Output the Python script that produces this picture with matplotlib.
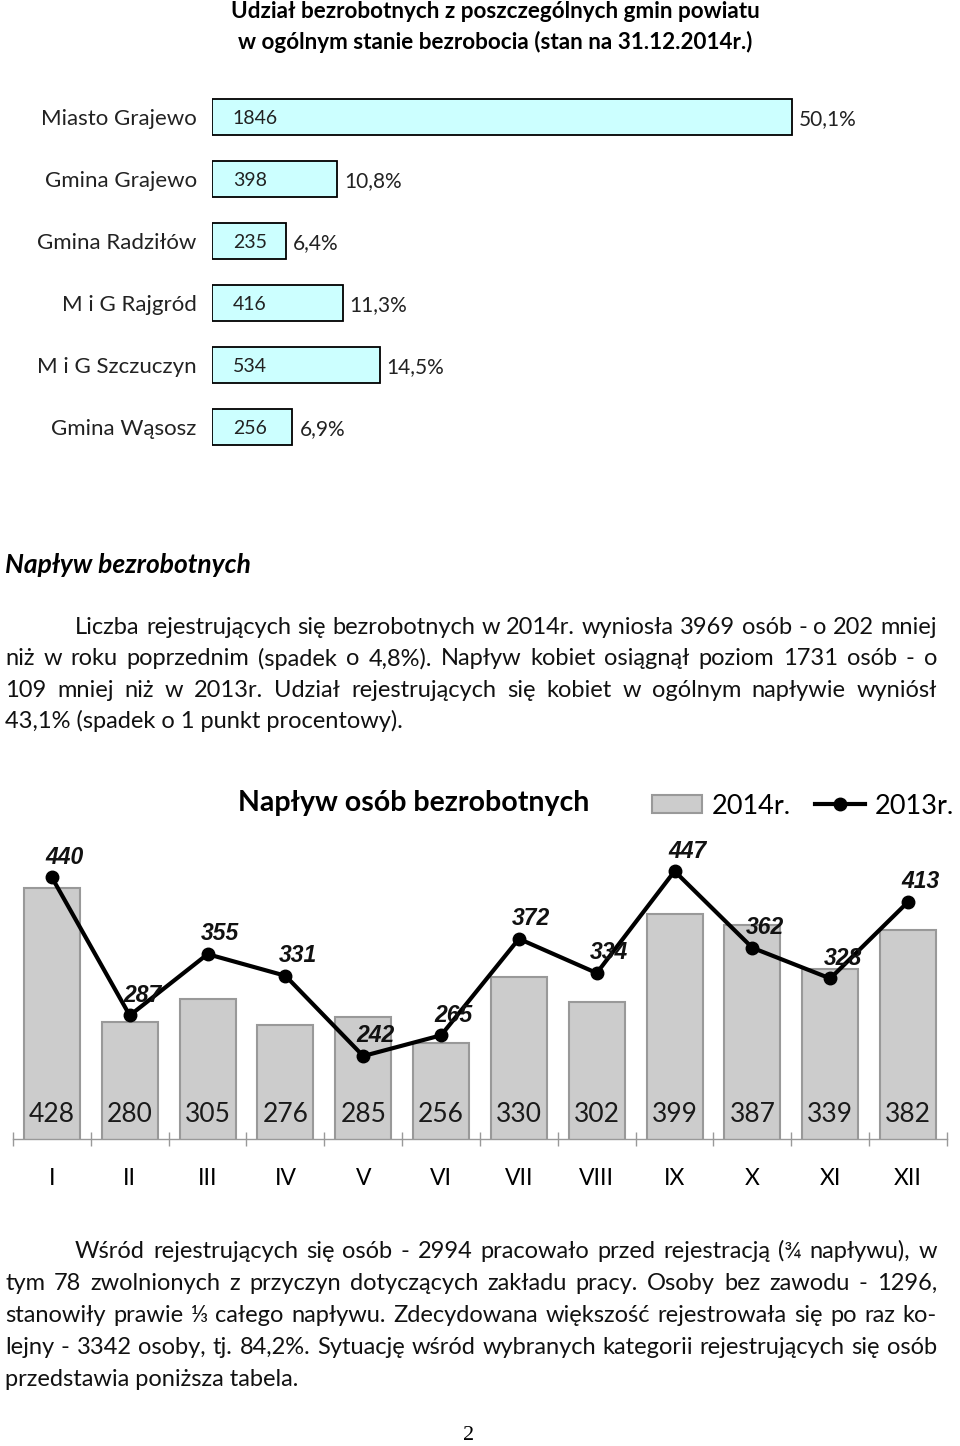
import matplotlib
matplotlib.use("Agg")
import matplotlib.pyplot as plt
from matplotlib.ticker import FixedLocator, NullFormatter

# dane - udzial gmin (stan na 31.12.2014)
gminy = ['Miasto Grajewo', 'Gmina Grajewo', 'Gmina Radziłów', 'M i G Rajgród', 'M i G Szczuczyn', 'Gmina Wąsosz']
bezrobotni = [1846, 398, 235, 416, 534, 256]
udzial = ['50,1%', '10,8%', '6,4%', '11,3%', '14,5%', '6,9%']

# dane - naplyw bezrobotnych wg miesiecy
miesiace = ['I', 'II', 'III', 'IV', 'V', 'VI', 'VII', 'VIII', 'IX', 'X', 'XI', 'XII']
naplyw_2014 = [428, 280, 305, 276, 285, 256, 330, 302, 399, 387, 339, 382]
naplyw_2013 = [440, 287, 355, 331, 242, 265, 372, 334, 447, 362, 328, 413]

tytul = ['Udział bezrobotnych z poszczególnych gmin powiatu',
         'w ogólnym stanie bezrobocia (stan na 31.12.2014r.)']
akapit1 = ['Liczba rejestrujących się bezrobotnych w 2014r. wyniosła 3969 osób - o 202 mniej',
           'niż w roku poprzednim (spadek o 4,8%). Napływ kobiet osiągnął poziom 1731 osób - o',
           '109 mniej niż w 2013r. Udział rejestrujących się kobiet w ogólnym napływie wyniósł',
           '43,1% (spadek o 1 punkt procentowy).']
akapit2 = ['Wśród rejestrujących się osób - 2994 pracowało przed rejestracją (¾ napływu), w',
           'tym 78 zwolnionych z przyczyn dotyczących zakładu pracy. Osoby bez zawodu - 1296,',
           'stanowiły prawie ⅓ całego napływu. Zdecydowana większość rejestrowała się po raz ko-',
           'lejny - 3342 osoby, tj. 84,2%. Sytuację wśród wybranych kategorii rejestrujących się osób',
           'przedstawia poniższa tabela.']

FONT = ['Lato', 'DejaVu Sans']
plt.rcParams['font.family'] = FONT

W, H = 960, 1446
fig = plt.figure(figsize=(W / 100, H / 100), dpi=100)
renderer = fig.canvas.get_renderer()


def fx(x):
    return x / W


def fy(y):
    return 1 - y / H


def add_ax(left, top, right, bottom):
    return fig.add_axes([fx(left), fy(bottom), (right - left) / W, (bottom - top) / H])


def akapit(lines, y0, dy, size):
    # wyjustowany akapit - pierwsza linia z wcieciem, ostatnia do lewej
    for n, line in enumerate(lines):
        x0 = 75 if n == 0 else 5
        y = y0 + n * dy
        if n == len(lines) - 1:
            fig.text(fx(x0), fy(y), line, fontsize=size, va='center', color='#111111')
            continue
        words = line.split(' ')
        txts = [fig.text(0, fy(y), w, fontsize=size, va='center', color='#111111') for w in words]
        widths = [t.get_window_extent(renderer).width for t in txts]
        gap = (937 - x0 - sum(widths)) / (len(words) - 1)
        x = x0
        for t, w in zip(txts, widths):
            t.set_x(fx(x))
            x += w + gap


# tytul
for n, t in enumerate(tytul):
    fig.text(fx(495), fy(12 + n * 30), t, fontsize=16.2, fontweight='bold', ha='center', va='center')

# wykres 1 - slupki poziome
ax1 = add_ax(212, 86, 932, 458)
ax1.barh(range(len(gminy)), bezrobotni, height=0.58, color='#CCFFFF', edgecolor='black', linewidth=1.3)
ax1.set_xlim(0, 720 / 0.3142)
ax1.set_ylim(len(gminy) - 0.5, -0.5)
ax1.set_yticks(range(len(gminy)))
ax1.set_yticklabels(gminy, fontsize=16, color='#222222')
ax1.tick_params(axis='y', length=0, pad=11)
ax1.set_xticks([])
for s in ax1.spines.values():
    s.set_visible(False)
for i, (v, p) in enumerate(zip(bezrobotni, udzial)):
    ax1.annotate(str(v), (0, i), xytext=(15, 0), textcoords='offset points',
                 va='center_baseline', ha='left', fontsize=14, color='#222222')
    ax1.annotate(p, (v, i), xytext=(5, 0), textcoords='offset points',
                 va='center_baseline', ha='left', fontsize=15, color='#222222')

# naglowek i pierwszy akapit
fig.text(fx(5), fy(565), 'Napływ bezrobotnych', fontsize=19, fontweight='bold', fontstyle='italic', va='center')
akapit(akapit1, 628, 31, 17)

# wykres 2 - naplyw osob bezrobotnych
ax2 = add_ax(13, 790, 947, 1139)
x = list(range(len(miesiace)))
slupki = ax2.bar(x, naplyw_2014, width=0.72, bottom=0, color='#CCCCCC', edgecolor='#999999',
                 linewidth=1.5, label='2014r.', zorder=2)
linia, = ax2.plot(x, naplyw_2013, color='black', lw=3, marker='o', ms=9, label='2013r.', zorder=3)
ax2.set_xlim(-0.5, len(miesiace) - 0.5)
ax2.set_ylim(150, 537)
ax2.set_yticks([])
for s in ['top', 'left', 'right']:
    ax2.spines[s].set_visible(False)
ax2.spines['bottom'].set_color('#999999')
ax2.spines['bottom'].set_linewidth(1)
ax2.set_xticks(x)
ax2.set_xticklabels(miesiace, fontsize=16.5)
ax2.tick_params(axis='x', which='major', length=0, pad=21)
ax2.xaxis.set_minor_locator(FixedLocator([i - 0.5 for i in range(len(miesiace) + 1)]))
ax2.xaxis.set_minor_formatter(NullFormatter())
ax2.tick_params(axis='x', which='minor', direction='inout', length=10, color='#999999', width=1)
for i, v in enumerate(naplyw_2014):
    ax2.annotate(str(v), (i, 150), xytext=(0, 18), textcoords='offset points',
                 ha='center', va='center', fontsize=19, color='#1a1a1a', zorder=4)
for i, v in enumerate(naplyw_2013):
    ax2.annotate(str(v), (i, v), xytext=(9, 14.5), textcoords='offset points',
                 ha='center', va='center', fontsize=16.5, fontweight='bold', fontstyle='italic',
                 family='Liberation Sans', color='#111111', zorder=5)

fig.text(fx(414), fy(803), 'Napływ osób bezrobotnych', fontsize=20.5, fontweight='bold', ha='center', va='center')
ax2.legend([slupki, linia], ['2014r.', '2013r.'], loc='center left',
           bbox_to_anchor=(fx(652), fy(806)), bbox_transform=fig.transFigure,
           ncol=2, frameon=False, fontsize=19.5, handlelength=1.85, handleheight=0.65,
           handletextpad=0.35, columnspacing=0.9, borderpad=0, borderaxespad=0)

# drugi akapit i numer strony
akapit(akapit2, 1251, 32, 17)
fig.text(fx(469), fy(1436), '2', fontsize=16, family='Liberation Serif', ha='center', va='center')

fig.savefig('out.png', dpi=100)
